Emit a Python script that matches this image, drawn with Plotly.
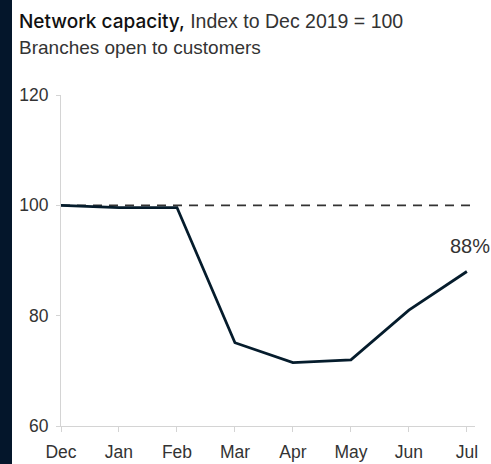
import plotly.graph_objects as go

# Monthly branch network capacity, indexed to Dec 2019 = 100
months = ["Dec", "Jan", "Feb", "Mar", "Apr", "May", "Jun", "Jul"]
capacity = [100, 99.6, 99.6, 75.1, 71.5, 72.0, 81.0, 88.0]
baseline = 100
y_ticks = [60, 80, 100, 120]
last_label = "88%"

NAVY = "#051c2c"
AXIS_GREY = "#d4d4d4"
FONT = "Liberation Sans, Arial, sans-serif"

W, H = 491, 464
L, R, T, B = 61, 16, 95, 38
plot_w = W - L - R
plot_h = H - T - B

x_idx = list(range(len(months)))

fig = go.Figure()

# Pre-pandemic reference level
fig.add_trace(go.Scatter(
    x=[x_idx[0], x_idx[-1] + 0.14], y=[baseline, baseline],
    mode="lines", line=dict(color="#333333", width=1.6, dash="9px,7px"),
    hoverinfo="skip", showlegend=False, cliponaxis=False,
))

fig.add_trace(go.Scatter(
    x=x_idx, y=capacity, mode="lines",
    line=dict(color=NAVY, width=2.8),
    showlegend=False, cliponaxis=False,
))

fig.add_annotation(
    x=x_idx[-1], y=capacity[-1], text=last_label, showarrow=False,
    xref="x", yref="y", xanchor="left", yanchor="bottom",
    xshift=-19, yshift=13,
    font=dict(family=FONT, size=20, color="#333333"),
)

# Heading and sub-heading
fig.add_annotation(
    xref="paper", yref="paper", x=(17 - L) / plot_w, y=(H - B - 22) / plot_h,
    xanchor="left", yanchor="middle", showarrow=False, align="left",
    text="<span style='font-family:Inter;font-weight:500;font-size:19px'>Network capacity,</span> "
         "<span style='color:#333333'>Index to Dec 2019 = 100</span>",
    font=dict(family=FONT, size=19.5, color="#111111"),
)
fig.add_annotation(
    xref="paper", yref="paper", x=(17 - L) / plot_w, y=(H - B - 47) / plot_h,
    xanchor="left", yanchor="middle", showarrow=False, align="left",
    text="Branches open to customers",
    font=dict(family=FONT, size=19, color="#333333"),
)

# Dark band along the left edge
fig.add_shape(
    type="rect", xref="paper", yref="paper",
    x0=-L / plot_w, x1=(12 - L) / plot_w,
    y0=-B / plot_h - 0.05, y1=(H - B) / plot_h + 0.05,
    fillcolor="#04162b", line=dict(width=0), layer="above",
)

fig.update_xaxes(
    range=[x_idx[0], x_idx[-1] + 0.14],
    tickvals=x_idx, ticktext=months,
    showline=True, linecolor=AXIS_GREY, linewidth=1,
    ticks="outside", ticklen=5, tickcolor=AXIS_GREY,
    ticklabelstandoff=5,
    showgrid=False, zeroline=False,
    tickfont=dict(family=FONT, size=17.5, color="#333333"),
)
fig.update_yaxes(
    range=[y_ticks[0], y_ticks[-1]],
    tickvals=y_ticks,
    showline=True, linecolor=AXIS_GREY, linewidth=1,
    ticks="outside", ticklen=4, tickcolor=AXIS_GREY,
    ticklabelstandoff=4,
    showgrid=False, zeroline=False,
    tickfont=dict(family=FONT, size=17.5, color="#333333"),
)

fig.update_layout(
    width=W, height=H,
    margin=dict(l=L, r=R, t=T, b=B, autoexpand=False),
    paper_bgcolor="white", plot_bgcolor="white",
    showlegend=False,
)

fig.write_html("out.html")
